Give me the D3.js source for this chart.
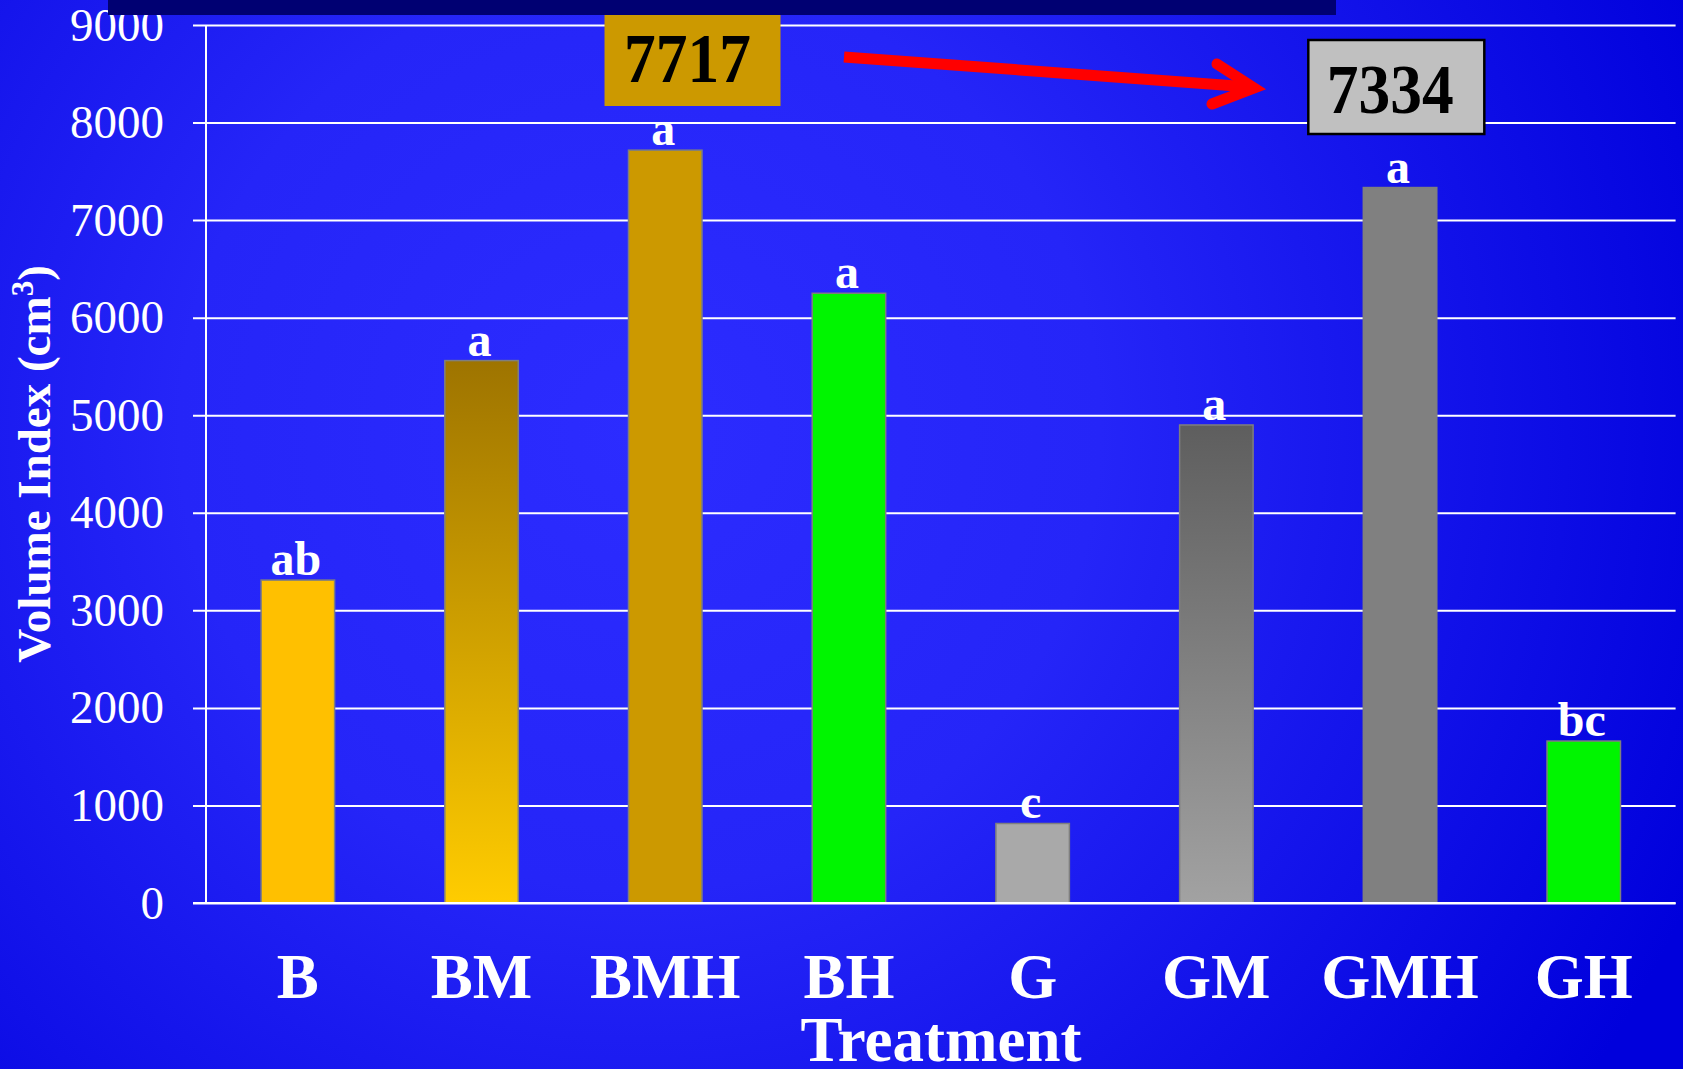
<!DOCTYPE html>
<html>
<head>
<meta charset="utf-8">
<script src="https://cdn.jsdelivr.net/npm/d3@7"></script>
<style>
  html, body { margin: 0; padding: 0; background: #0000dc; }
  svg { display: block; }
  text { font-family: "Liberation Serif", "Times New Roman", serif; }
</style>
</head>
<body>
<svg id="chart" width="1683" height="1069"></svg>
<script>
// ---- data ----
const categories = ["B", "BM", "BMH", "BH", "G", "GM", "GMH", "GH"];
const volumeIndex = [3310, 5560, 7717, 6250, 815, 4900, 7334, 1660];
const significance = ["ab", "a", "a", "a", "c", "a", "a", "bc"];
const barColors = ["#FFC000", "url(#gradBM)", "#CC9900", "#00F500", "#A9A9A9", "url(#gradGM)", "#808080", "#00F500"];
const yTicks = [0, 1000, 2000, 3000, 4000, 5000, 6000, 7000, 8000, 9000];
const highlighted = ["BMH", "GMH"];
const xTitle = "Treatment";
const yTitle = "Volume Index (cm";

const svg = d3.select("#chart");
const W = 1683, H = 1069;

// ---- defs ----
const defs = svg.append("defs");
const bg = defs.append("radialGradient").attr("id", "bgGrad")
  .attr("gradientUnits", "userSpaceOnUse")
  .attr("cx", 640).attr("cy", 430).attr("r", 1150);
bg.append("stop").attr("offset", 0).attr("stop-color", "#2c2cff");
bg.append("stop").attr("offset", 0.4).attr("stop-color", "#2525f8");
bg.append("stop").attr("offset", 1).attr("stop-color", "#0000dc");

const gBM = defs.append("linearGradient").attr("id", "gradBM").attr("x1", 0).attr("y1", 0).attr("x2", 0).attr("y2", 1);
gBM.append("stop").attr("offset", 0).attr("stop-color", "#9E7400");
gBM.append("stop").attr("offset", 1).attr("stop-color", "#FFCC00");
const gGM = defs.append("linearGradient").attr("id", "gradGM").attr("x1", 0).attr("y1", 0).attr("x2", 0).attr("y2", 1);
gGM.append("stop").attr("offset", 0).attr("stop-color", "#5E5E5E");
gGM.append("stop").attr("offset", 1).attr("stop-color", "#A2A2A2");

svg.append("rect").attr("width", W).attr("height", H).attr("fill", "url(#bgGrad)");

// ---- scales ----
const x = d3.scaleBand().domain(categories).range([206, 1675.6]).paddingInner(0.6).paddingOuter(0.3);
const y = d3.scaleLinear().domain([0, 9000]).range([903, 25]);

// ---- grid + y axis ----
const yAxis = svg.append("g").attr("transform", "translate(206,0)")
  .call(d3.axisLeft(y).tickValues(yTicks).tickSize(-(1675.6 - 206)).tickPadding(42).tickFormat(d3.format("d")));
yAxis.select(".domain").remove();
yAxis.selectAll(".tick line").attr("stroke", "#ffffff").attr("stroke-width", 2).attr("x1", -13);
yAxis.selectAll(".tick text").attr("fill", "#ffffff").attr("font-size", 47)
  .attr("font-family", "Liberation Serif, Times New Roman, serif");

svg.append("line").attr("x1", 206).attr("x2", 206).attr("y1", y(9000)).attr("y2", y(0))
  .attr("stroke", "#ffffff").attr("stroke-width", 2);

// ---- bars ----
svg.append("g").selectAll("rect").data(categories).join("rect")
  .attr("x", d => x(d))
  .attr("width", x.bandwidth())
  .attr("y", (d, i) => y(volumeIndex[i]))
  .attr("height", (d, i) => y(0) - y(volumeIndex[i]))
  .attr("fill", (d, i) => barColors[i])
  .attr("stroke", "#7f7f7f").attr("stroke-width", 1.5);

// redraw baseline over bars
svg.append("line").attr("x1", 193).attr("x2", 1675.6).attr("y1", y(0)).attr("y2", y(0))
  .attr("stroke", "#ffffff").attr("stroke-width", 2);

// ---- significance letters ----
svg.append("g").selectAll("text").data(categories).join("text")
  .attr("x", d => x(d) + x.bandwidth() / 2 - 2)
  .attr("y", (d, i) => y(volumeIndex[i]) - 5)
  .attr("text-anchor", "middle")
  .attr("font-weight", "bold").attr("font-size", 48).attr("fill", "#ffffff")
  .text((d, i) => significance[i]);

// ---- category labels ----
svg.append("g").selectAll("text").data(categories).join("text")
  .attr("x", d => x(d) + x.bandwidth() / 2)
  .attr("y", 998)
  .attr("text-anchor", "middle")
  .attr("font-weight", "bold").attr("font-size", 63).attr("fill", "#ffffff")
  .text(d => d);

// ---- axis titles ----
svg.append("text").attr("x", 941).attr("y", 1061).attr("text-anchor", "middle")
  .attr("font-weight", "bold").attr("font-size", 63).attr("fill", "#ffffff").text(xTitle);

const yt = svg.append("text").attr("transform", "translate(50,464) rotate(-90)")
  .attr("text-anchor", "middle").attr("font-weight", "bold").attr("font-size", 47).attr("fill", "#ffffff");
yt.append("tspan").text(yTitle);
yt.append("tspan").attr("font-size", 31).attr("dy", -17).text("3");
yt.append("tspan").attr("dy", 17).text(")");

// ---- top dark band ----
svg.append("rect").attr("x", 108).attr("y", 0).attr("width", 1228).attr("height", 15).attr("fill", "#000072");

// ---- annotations ----
const iA = categories.indexOf(highlighted[0]);
const iB = categories.indexOf(highlighted[1]);
const boxA = { x: x(highlighted[0]) - 24, y: 15, w: 176, h: 91 };
svg.append("rect").attr("x", boxA.x).attr("y", boxA.y).attr("width", boxA.w).attr("height", boxA.h).attr("fill", "#CC9900");
svg.append("text").attr("transform", `translate(${boxA.x + 83},82) scale(0.92,1)`).attr("text-anchor", "middle")
  .attr("font-weight", "bold").attr("font-size", 69).attr("fill", "#000000").text(String(volumeIndex[iA]));

const boxB = { x: x(highlighted[1]) - 55, y: 40, w: 176, h: 94 };
svg.append("rect").attr("x", boxB.x).attr("y", boxB.y).attr("width", boxB.w).attr("height", boxB.h)
  .attr("fill", "#C0C0C0").attr("stroke", "#000000").attr("stroke-width", 2.5);
svg.append("text").attr("transform", `translate(${boxB.x + 82},113) scale(0.92,1)`).attr("text-anchor", "middle")
  .attr("font-weight", "bold").attr("font-size", 69).attr("fill", "#000000").text(String(volumeIndex[iB]));

// red arrow
const arrow = svg.append("g").attr("stroke", "#FF0000").attr("fill", "none").attr("stroke-width", 11);
arrow.append("line").attr("x1", 844).attr("y1", 57).attr("x2", 1250).attr("y2", 87).attr("stroke-linecap", "butt");
arrow.append("polyline").attr("points", "1217,64 1254,88 1212,104")
  .attr("stroke-linecap", "round").attr("stroke-linejoin", "miter");
</script>
</body>
</html>
